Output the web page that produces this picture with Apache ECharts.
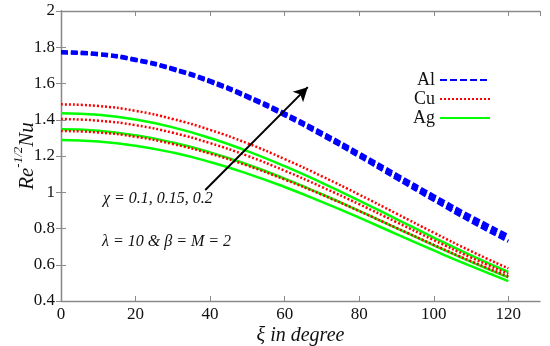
<!DOCTYPE html>
<html>
<head>
<meta charset="utf-8">
<script src="https://cdn.jsdelivr.net/npm/echarts@6/dist/echarts.min.js"></script>
<style>
html,body{margin:0;padding:0;background:#fff;}
#chart{width:550px;height:346px;}
</style>
</head>
<body>
<div id="chart"></div>
<script>
// ξ in degree
var xi = [0, 10, 20, 30, 40, 50, 60, 70, 80, 90, 100, 110, 120];

// Al (χ = 0.1, 0.15, 0.2)
var al1 = [1.775, 1.765, 1.734, 1.684, 1.617, 1.533, 1.437, 1.330, 1.216, 1.098, 0.981, 0.867, 0.760];
var al2 = [1.772, 1.762, 1.731, 1.680, 1.612, 1.528, 1.430, 1.322, 1.206, 1.087, 0.968, 0.853, 0.745];
var al3 = [1.769, 1.759, 1.727, 1.676, 1.607, 1.522, 1.423, 1.313, 1.197, 1.076, 0.956, 0.839, 0.730];

// Cu
var cu1 = [1.485, 1.476, 1.449, 1.404, 1.344, 1.270, 1.183, 1.088, 0.987, 0.882, 0.777, 0.675, 0.580];
var cu2 = [1.404, 1.395, 1.370, 1.328, 1.271, 1.201, 1.119, 1.029, 0.934, 0.835, 0.736, 0.640, 0.550];
var cu3 = [1.338, 1.330, 1.306, 1.266, 1.213, 1.147, 1.070, 0.986, 0.896, 0.803, 0.710, 0.620, 0.535];

// Ag
var ag1 = [1.436, 1.427, 1.401, 1.358, 1.299, 1.227, 1.144, 1.052, 0.954, 0.852, 0.750, 0.652, 0.560];
var ag2 = [1.347, 1.339, 1.314, 1.274, 1.220, 1.153, 1.075, 0.989, 0.897, 0.802, 0.707, 0.616, 0.530];
var ag3 = [1.288, 1.280, 1.257, 1.219, 1.167, 1.103, 1.029, 0.947, 0.860, 0.769, 0.679, 0.592, 0.510];

var legendNames = ['Al', 'Cu', 'Ag'];

// arrow annotation endpoints (data coords)
var arrowTail = [38.7, 1.012];
var arrowHead = [66.2, 1.58];

function pairs(ys) { return xi.map(function (x, i) { return [x, ys[i]]; }); }

var serif = '"Liberation Serif", "Times New Roman", serif';
var axisGray = '#8a8a8a';

function mk(name, ys, color, type, width) {
  return {
    name: name, type: 'line', data: pairs(ys), smooth: true,
    symbol: 'none', showSymbol: false,
    lineStyle: { color: color, type: type, width: width, cap: 'butt' },
    itemStyle: { color: color },
    emphasis: { disabled: true }
  };
}

var series = [
  mk('Ag', ag1, '#00ff00', 'solid', 2.5),
  mk('Ag', ag2, '#00ff00', 'solid', 2.5),
  mk('Ag', ag3, '#00ff00', 'solid', 2.5),
  mk('Cu', cu1, '#ff0000', [2, 2], 2.5),
  mk('Cu', cu2, '#ff0000', [2, 2], 2.5),
  mk('Cu', cu3, '#ff0000', [2, 2], 2.5),
  mk('Al', al1, '#0000ff', [7, 3], 3.5),
  mk('Al', al2, '#0000ff', [7, 3], 3.5),
  mk('Al', al3, '#0000ff', [7, 3], 3.5)
];
series[6].markLine = {
  silent: true,
  symbol: ['none', 'arrow'],
  symbolSize: [11, 14],
  label: { show: false },
  lineStyle: { color: '#000', type: 'solid', width: 2 },
  data: [[{ coord: arrowTail }, { coord: arrowHead }]]
};

var chart = echarts.init(document.getElementById('chart'), null, { renderer: 'canvas' });
chart.setOption({
  animation: false,
  backgroundColor: '#fff',
  grid: { left: 61, right: 10, top: 11, bottom: 45, containLabel: false, outerBoundsMode: 'none' },
  legend: {
    data: legendNames,
    orient: 'vertical',
    align: 'right',
    left: 408,
    top: 66,
    itemWidth: 50,
    itemHeight: 12,
    itemGap: 1,
    selectedMode: false,
    itemStyle: { color: 'rgba(0,0,0,0)', borderColor: 'rgba(0,0,0,0)', borderWidth: 0 },
    textStyle: { fontFamily: serif, fontSize: 18, lineHeight: 18, color: '#111' }
  },
  xAxis: [{
    type: 'value', min: 0, max: 128.5, interval: 20,
    axisLine: { show: true, lineStyle: { color: axisGray, width: 1.3 } },
    axisTick: { show: true, inside: true, length: 5, lineStyle: { color: axisGray } },
    splitLine: { show: false },
    axisLabel: { showMaxLabel: false, margin: 5, fontFamily: serif, fontSize: 17, color: '#111' },
    name: '{i|ξ in degree}',
    nameLocation: 'middle',
    nameGap: 25,
    nameMoveOverlap: false,
    nameTextStyle: { rich: { i: { fontFamily: serif, fontStyle: 'italic', fontSize: 20, color: '#111' } } }
  }, {
    type: 'value', position: 'top', min: 0, max: 128.5, interval: 20,
    axisLine: { show: true, lineStyle: { color: axisGray, width: 1.3 } },
    axisTick: { show: true, inside: true, length: 5, lineStyle: { color: axisGray } },
    splitLine: { show: false },
    axisLabel: { show: false }
  }],
  yAxis: [{
    type: 'value', min: 0.4, max: 2, interval: 0.2,
    axisLine: { show: true, lineStyle: { color: axisGray, width: 1.3 } },
    axisTick: { show: true, inside: true, length: 5, lineStyle: { color: axisGray } },
    splitLine: { show: false },
    axisLabel: { margin: 6, fontFamily: serif, fontSize: 17, color: '#111' },
    name: '{m|Re}{s|-1/2}{m|Nu}',
    nameLocation: 'middle',
    nameRotate: 90,
    nameGap: 23,
    nameMoveOverlap: false,
    nameTextStyle: {
      rich: {
        m: { fontFamily: serif, fontStyle: 'italic', fontSize: 21, color: '#111', verticalAlign: 'bottom', lineHeight: 26 },
        s: { fontFamily: serif, fontStyle: 'italic', fontSize: 13, color: '#111', verticalAlign: 'top', lineHeight: 26 }
      }
    }
  }, {
    type: 'value', position: 'right', min: 0.4, max: 2, interval: 0.2,
    axisLine: { show: true, lineStyle: { color: axisGray, width: 1.3 } },
    axisTick: { show: true, inside: true, length: 5, lineStyle: { color: axisGray } },
    splitLine: { show: false },
    axisLabel: { show: false }
  }],
  graphic: [
    { type: 'text', left: 103, top: 191, style: { text: 'χ = 0.1, 0.15, 0.2', font: 'italic 16px ' + serif, fill: '#111' } },
    { type: 'text', left: 102, top: 234, style: { text: 'λ = 10 & β = M = 2', font: 'italic 16px ' + serif, fill: '#111' } }
  ],
  series: series
});
</script>
</body>
</html>
